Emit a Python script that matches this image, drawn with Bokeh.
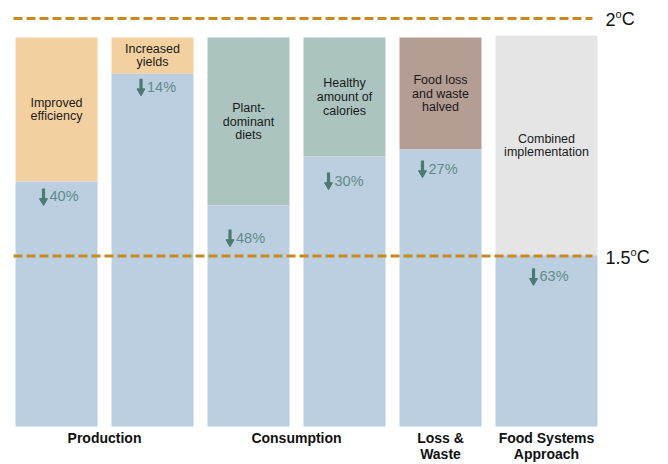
from bokeh.plotting import figure
from bokeh.models import Range1d, ColumnDataSource
from bokeh.embed import file_html
from bokeh.resources import INLINE
from bokeh.core.properties import value

# ---------------- data ----------------
groups = ["Production", "Consumption", "Loss &\nWaste", "Food Systems\nApproach"]
group_of_measure = [0, 0, 1, 1, 2, 3]
measures = ["Improved\nefficiency", "Increased\nyields", "Plant-\ndominant\ndiets",
            "Healthy\namount of\ncalories", "Food loss\nand waste\nhalved",
            "Combined\nimplementation"]
reduction_pct = [40, 14, 48, 30, 27, 63]
remaining = [63.0, 90.7, 56.8, 69.4, 71.2, 44.0]      # blue part (baseline = 100)
baseline = [100, 100, 100, 100, 100, 100.5]
measure_colors = ["#F3D09F", "#F3D09F", "#ABC4C0", "#ABC4C0", "#B49D92", "#E5E5E5"]
target_names = ["2", "1.5"]
target_levels = [104.9, 43.8]

# ---------------- layout ----------------
W, H = 668, 464
PX = 3.89                      # pixels per value unit
Y0 = 426                       # frame pixel row of value 0
FONT = value("Liberation Sans")
BLUE = "#BCCFE0"
DASH = "#C88A1C"
ARROW = "#4B7A70"
PCT = "#5F8C86"

lefts = [15 + 96 * i for i in range(6)]
widths = [82] * 5 + [102]
centers = [l + w / 2 for l, w in zip(lefts, widths)]
label_drop_px = [15, 13, 32, 24, 19, 21]
arrow_dx = [-13, -11.5, -18.5, -16, -18, -13]

p = figure(width=W, height=H, output_backend="svg", toolbar_location=None,
           x_range=Range1d(0, W),
           y_range=Range1d(-(H - Y0) / PX, Y0 / PX),
           min_border=0, outline_line_color=None)
p.axis.visible = False
p.grid.visible = False
p.background_fill_color = "white"

# bars
src = ColumnDataSource(dict(x=centers, w=widths, rem=remaining, top=baseline,
                            col=measure_colors, txt=measures,
                            mid=[(r + t) / 2 for r, t in zip(remaining, baseline)]))
p.vbar(x="x", width="w", bottom="rem", top="top", fill_color="col",
       line_color=None, source=src)
p.vbar(x="x", width="w", bottom=0, top="rem", fill_color=BLUE,
       line_color=None, source=src)
p.text(x="x", y="mid", text="txt", source=src, text_align="center",
       text_baseline="middle", text_font=FONT, text_font_size="12.5px",
       text_line_height=0.98, text_color="#1a1a1a")

# percentage labels with arrows
ly = [r - d / PX for r, d in zip(remaining, label_drop_px)]
ax = [c + dx for c, dx in zip(centers, arrow_dx)]
psrc = ColumnDataSource(dict(
    ax=ax, tx=[a + 6 for a in ax], y=ly,
    y0=[v + 8 / PX for v in ly], y1=[v - 3 / PX for v in ly],
    yh=[v - 4.5 / PX for v in ly],
    txt=[f"{v}%" for v in reduction_pct]))
p.segment(x0="ax", x1="ax", y0="y0", y1="y1", line_width=3.2,
          line_color=ARROW, source=psrc)
p.scatter(x="ax", y="yh", marker="inverted_triangle", size=8,
          fill_color=ARROW, line_color=ARROW, source=psrc)
p.text(x="tx", y="y", text="txt", source=psrc, text_align="left",
       text_baseline="middle", text_font=FONT, text_font_size="14.5px",
       text_color=PCT)

# group labels
gx = []
for g in range(len(groups)):
    idx = [i for i, gg in enumerate(group_of_measure) if gg == g]
    gx.append((lefts[idx[0]] + lefts[idx[-1]] + widths[idx[-1]]) / 2)
p.text(x=gx, y=[-(429 - Y0) / PX] * len(groups), text=groups,
       text_align="center", text_baseline="top", text_font=FONT,
       text_font_size="14px", text_font_style="bold", text_line_height=1.02,
       text_color="#111111")

# target lines
p.segment(x0=[13] * 2, x1=[592] * 2, y0=target_levels, y1=target_levels,
          line_color=DASH, line_width=3, line_dash="9 4")

def twidth(s, size):
    w = 0.0
    for ch in s:
        w += 0.278 if ch == "." else 0.556
    return w * size

tx0 = 605
mid = [t - 1.0 / PX for t in target_levels]
p.text(x=[tx0] * 2, y=mid, text=target_names, text_align="left",
       text_baseline="middle", text_font=FONT, text_font_size="18px",
       text_color="#111111")
ox = [tx0 + twidth(n, 18) for n in target_names]
p.text(x=ox, y=[m + 5.5 / PX for m in mid], text=["o"] * 2, text_align="left",
       text_baseline="middle", text_font=FONT, text_font_size="11px",
       text_color="#111111")
p.text(x=[o + 6.3 for o in ox], y=mid, text=["C"] * 2, text_align="left",
       text_baseline="middle", text_font=FONT, text_font_size="18px",
       text_color="#111111")

open("out.html", "w").write(file_html(p, INLINE))
